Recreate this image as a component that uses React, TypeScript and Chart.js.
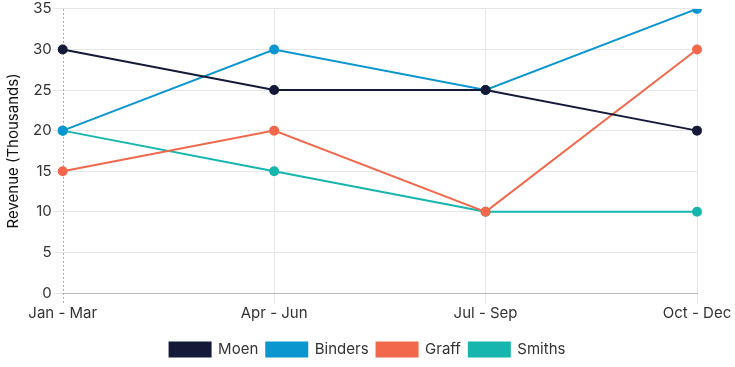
import React, { useEffect, useRef } from "react";
import { Chart, registerables } from "chart.js";

Chart.register(...registerables);

const categories = ["Jan - Mar", "Apr - Jun", "Jul - Sep", "Oct - Dec"];
const moen = [30, 25, 25, 20];
const binders = [20, 30, 25, 35];
const graff = [15, 20, 10, 30];
const smiths = [20, 15, 10, 10];

const FONT = "Inter, 'Noto Sans', sans-serif";

const dottedLeft = {
  id: "dottedLeft",
  beforeDatasetsDraw(chart: any) {
    const { ctx, chartArea } = chart;
    const x = Math.round(chartArea.left) + 0.5;
    ctx.save();
    ctx.strokeStyle = "#aaa";
    ctx.lineWidth = 1;
    ctx.setLineDash([2, 2]);
    ctx.beginPath();
    ctx.moveTo(x, chartArea.top);
    ctx.lineTo(x, chartArea.bottom + 12);
    ctx.stroke();
    ctx.restore();
  },
};

export default function App() {
  const ref = useRef<HTMLCanvasElement>(null);
  useEffect(() => {
    document.body.style.margin = "0";
    const mk = (label: string, data: number[], color: string) => ({
      label,
      data,
      borderColor: color,
      backgroundColor: color,
      pointBackgroundColor: color,
      pointBorderColor: color,
      pointRadius: 4,
      borderWidth: 2,
      tension: 0,
    });
    const chart = new Chart(ref.current!, {
      type: "line",
      data: {
        labels: categories,
        datasets: [
          mk("Moen", moen, "#141a38"),
          mk("Binders", binders, "#0b96cf"),
          mk("Graff", graff, "#f1684c"),
          mk("Smiths", smiths, "#16b6ae"),
        ],
      },
      plugins: [dottedLeft],
      options: {
        animation: false,
        responsive: false,
        maintainAspectRatio: false,
        layout: { padding: { left: 0, right: 0, top: 0, bottom: 0 } },
        plugins: {
          legend: {
            position: "bottom",
            labels: {
              boxWidth: 41,
              boxHeight: 14,
              padding: 8,
              color: "#333",
              font: { family: FONT, size: 15 },
            },
          },
          tooltip: { enabled: false },
        },
        scales: {
          x: {
            afterFit: (scale: any) => {
              scale.height += 12;
              scale.paddingRight = 38;
            },
            grid: {
              color: (c: any) => (c.index === 0 ? "rgba(0,0,0,0)" : "#e6e6e6"),
              drawTicks: true,
              tickLength: 11,
            },
            border: { color: "#bbb" },
            ticks: { color: "#333", font: { family: FONT, size: 15 }, maxRotation: 0, padding: 0 },
          },
          y: {
            min: 0,
            max: 35,
            grid: { color: "#e6e6e6", tickLength: 10 },
            border: { display: false },
            ticks: {
              stepSize: 5,
              color: "#333",
              font: { family: FONT, size: 15, lineHeight: 1.05 },
              padding: 1,
            },
            title: {
              display: true,
              text: "Revenue (Thousands)",
              color: "#111",
              font: { family: FONT, size: 15 },
              padding: { top: 4, bottom: 10 },
            },
          },
        },
      },
    });
    return () => chart.destroy();
  }, []);
  return (
    <div style={{ width: 735, height: 367 }}>
      <canvas ref={ref} width={735} height={367} style={{ display: "block" }} />
    </div>
  );
}
